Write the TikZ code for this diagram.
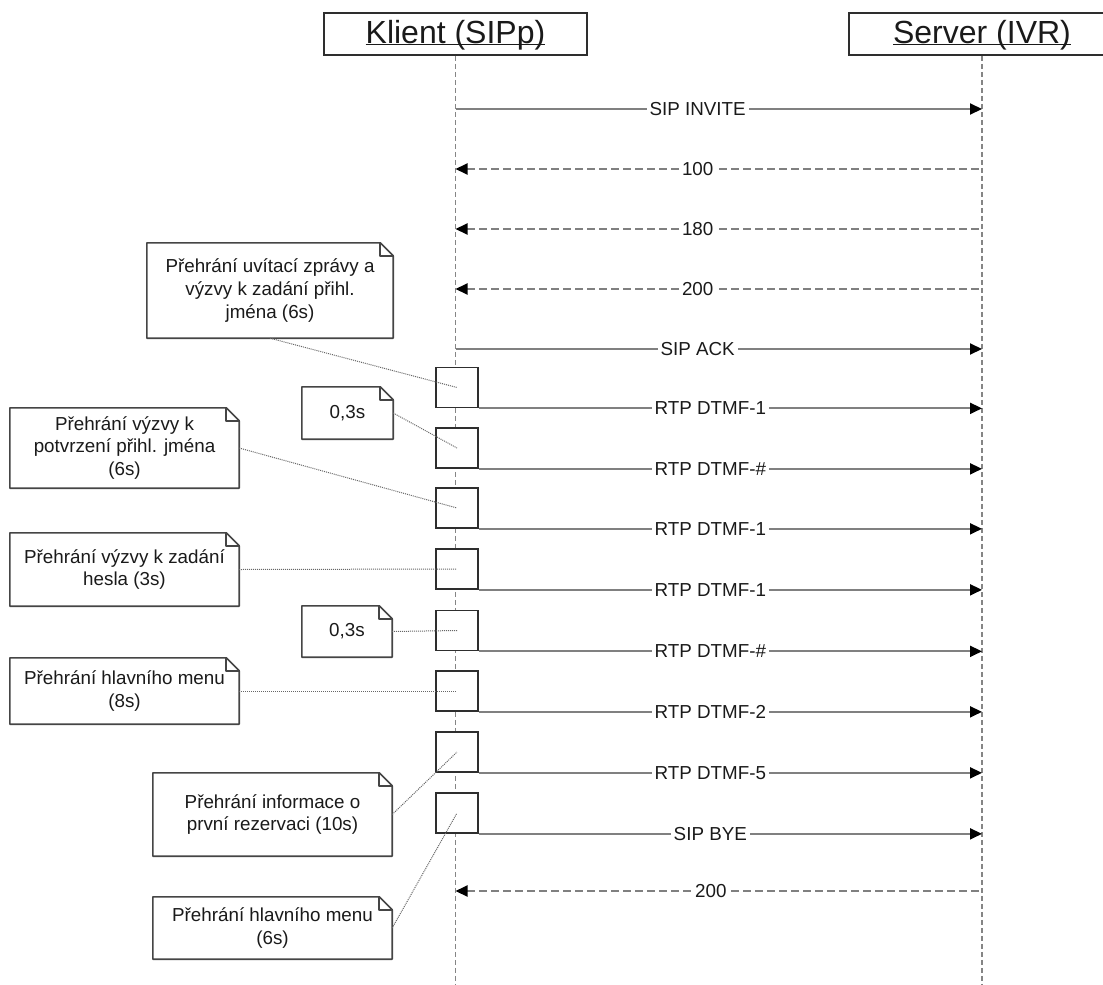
\documentclass[tikz,border=0pt]{standalone}
\usepackage{fontspec}
\setmainfont{Liberation Sans}
\usetikzlibrary{arrows.meta,calc}
\definecolor{linegray}{HTML}{808080}
\definecolor{lifegray}{HTML}{858585}
\definecolor{edgegray}{HTML}{2E2E2E}
\definecolor{notegray}{HTML}{454545}
\definecolor{dotgray}{HTML}{666666}
\definecolor{inkgray}{HTML}{1A1A1A}
\begin{document}
\begin{tikzpicture}[x=1pt,y=-1pt,
  every node/.style={text=inkgray},
  header/.style={draw=edgegray,line width=1.6pt,fill=white,minimum width=263pt,
    minimum height=42pt,inner sep=0pt},
  headtext/.style={inner sep=0pt,anchor=base,font=\fontsize{32}{38}\selectfont},
  lifeline/.style={draw=lifegray,line width=1.6pt,dash pattern=on 5pt off 3pt},
  actbox/.style={draw=edgegray,line width=1.7pt,fill=white,minimum width=42pt,
    minimum height=40pt,inner sep=0pt},
  call/.style={draw=linegray,line width=2pt,
    -{Triangle[length=12pt,width=11pt,color=black,fill=black]}},
  reply/.style={draw=linegray,line width=2pt,dash pattern=on 8pt off 4pt,
    {Triangle[length=12pt,width=11pt,color=black,fill=black]}-},
  msglabel/.style={fill=white,inner sep=3pt,font=\fontsize{18.8}{22}\selectfont,pos=0.46},
  note/.style={fill=white,inner sep=0pt,align=center,font=\fontsize{18.8}{22.8}\selectfont},
  noteedge/.style={draw=notegray,line width=1.6pt,line join=round},
  notelink/.style={draw=dotgray,line width=1pt,dash pattern=on 1pt off 1pt}
]
\useasboundingbox (0,0) rectangle (1103,985);

% participants
\node[header] (klient) at (455.5,34) {};
\node[header,minimum width=266pt] (server) at (982,34) {};
\node[headtext] (klientname) at ([yshift=-9pt]klient.center) {\underline{\raisebox{0pt}[\height][0pt]{Klient (SIPp)}}};
\node[headtext] (servername) at ([yshift=-9pt]server.center) {\underline{\raisebox{0pt}[\height][0pt]{Server (IVR)}}};

% lifelines
\coordinate (kend) at (455.5,985);
\coordinate (send) at (982,985);
\draw[lifeline] (klient.south) -- (kend);
\draw[lifeline] (server.south) -- (send);

% activation boxes on the client lifeline
\node[actbox] (b1) at (457,387.5) {};
\node[actbox] (b2) at (457,448) {};
\node[actbox] (b3) at (457,508) {};
\node[actbox] (b4) at (457,569) {};
\node[actbox] (b5) at (457,630.5) {};
\node[actbox] (b6) at (457,691) {};
\node[actbox] (b7) at (457,752) {};
\node[actbox] (b8) at (457,813) {};

% signalling
\draw[call]  (klient |- 0,109) -- node[msglabel]{SIP INVITE} (server |- 0,109);
\draw[reply] (klient |- 0,169) -- node[msglabel]{100} (server |- 0,169);
\draw[reply] (klient |- 0,229) -- node[msglabel]{180} (server |- 0,229);
\draw[reply] (klient |- 0,289) -- node[msglabel]{200} (server |- 0,289);
\draw[call]  (klient |- 0,349) -- node[msglabel]{SIP ACK} (server |- 0,349);

% DTMF sequence
\draw[call] (b1.south east) -- node[msglabel]{RTP DTMF-1} (server |- b1.south);
\draw[call] (b2.south east) -- node[msglabel]{RTP DTMF-\#} (server |- b2.south);
\draw[call] (b3.south east) -- node[msglabel]{RTP DTMF-1} (server |- b3.south);
\draw[call] (b4.south east) -- node[msglabel]{RTP DTMF-1} (server |- b4.south);
\draw[call] (b5.south east) -- node[msglabel]{RTP DTMF-\#} (server |- b5.south);
\draw[call] (b6.south east) -- node[msglabel]{RTP DTMF-2} (server |- b6.south);
\draw[call] (b7.south east) -- node[msglabel]{RTP DTMF-5} (server |- b7.south);
\draw[call] (b8.south east) -- node[msglabel]{SIP BYE} (server |- b8.south);
\draw[reply] (klient |- 0,891) -- node[msglabel,pos=0.485]{200} (server |- 0,891);

% notes
\node[note,minimum width=246pt,minimum height=95pt] (n1) at (270,290.5)
  {Přehrání uvítací zprávy a\\výzvy k zadání přihl.\\jména (6s)};
\node[note,minimum width=91pt,minimum height=52pt] (n2) at (347.5,413) {0,3s};
\node[note,minimum width=229pt,minimum height=80pt] (n3) at (124.5,448)
  {Přehrání výzvy k\\potvrzení přihl. jména\\(6s)};
\node[note,minimum width=229pt,minimum height=73pt] (n4) at (124.5,569.5)
  {Přehrání výzvy k zadání\\hesla (3s)};
\node[note,minimum width=90pt,minimum height=51pt] (n5) at (347,631.5) {0,3s};
\node[note,minimum width=229pt,minimum height=66pt] (n6) at (124.5,691)
  {Přehrání hlavního menu\\(8s)};
\node[note,minimum width=239pt,minimum height=83pt] (n7) at (272.5,814.5)
  {Přehrání informace o\\první rezervaci (10s)};
\node[note,minimum width=239pt,minimum height=62pt] (n8) at (272.5,928)
  {Přehrání hlavního menu\\(6s)};

% note outlines with folded corner
\foreach \n in {n1,n2,n3,n4,n5,n6,n7,n8}{
  \draw[noteedge] (\n.north west) -- ([xshift=-13pt]\n.north east)
    -- ([yshift=-13pt]\n.north east) -- (\n.south east) -- (\n.south west) -- cycle;
  \draw[noteedge] ([xshift=-13pt]\n.north east) |- ([yshift=-13pt]\n.north east);
}

% note links
\draw[notelink] (n1.south) -- (b1.center);
\draw[notelink] (n2.east) -- (b2.center);
\draw[notelink] (n3.east) -- (b3.center);
\draw[notelink] (n4.east) -- (b4.center);
\draw[notelink] (n5.east) -- (b5.center);
\draw[notelink] (n6.east) -- (b6.center);
\draw[notelink] (n7.east) -- (b7.center);
\draw[notelink] (n8.east) -- (b8.center);
\end{tikzpicture}
\end{document}
